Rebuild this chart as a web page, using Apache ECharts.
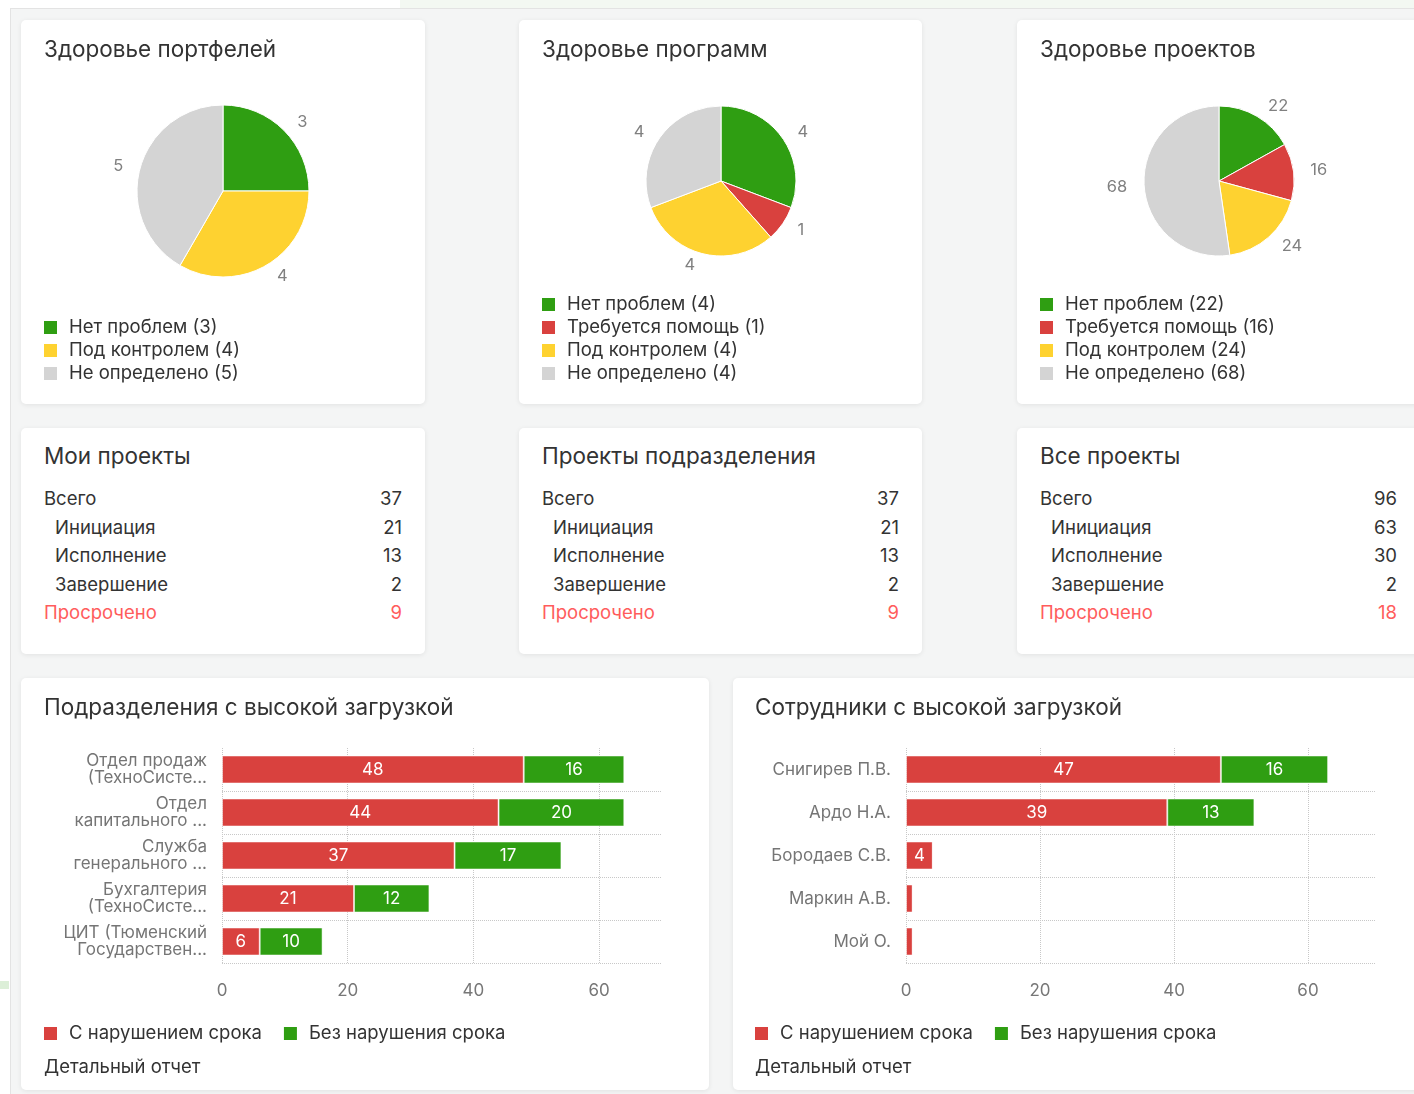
<!DOCTYPE html>
<html>
<head>
<meta charset="utf-8">
<script src="https://cdn.jsdelivr.net/npm/echarts@6/dist/echarts.min.js"></script>
<style>
  html, body { margin: 0; padding: 0; }
  body {
    width: 1414px; height: 1094px; overflow: hidden; position: relative;
    background: #fff; font-family: Inter, "Noto Sans", sans-serif; color: #333;
  }
  .page {
    position: absolute; left: 10px; top: 8px; right: 0; bottom: 0;
    background: #f4f5f5; border-left: 1px solid #e3e3e3; border-top: 1px solid #e3e3e3;
  }
  .topstrip { position: absolute; left: 400px; top: 0; right: 0; height: 8px; background: #f3f8f2; }
  .deco { position: absolute; left: 0; top: 981px; width: 9px; height: 8px; background: #dcefd8; }
  .card {
    position: absolute; background: #fff; border-radius: 5px;
    box-shadow: 0 1px 5px rgba(0,0,0,0.08);
  }
  .chart { position: absolute; left: 0; top: 0; width: 100%; height: 100%; }
  .tbl-title { position: absolute; left: 23px; top: 14px; font-size: 22.5px; line-height: 28px; }
  .tbl { position: absolute; left: 23px; right: 23px; top: 56px; }
  .row { display: flex; justify-content: space-between; font-size: 18.5px; line-height: 28.5px; }
  .row.sub span:first-child { padding-left: 11px; }
  .row.late { color: #ff5c5c; }
  .report { position: absolute; left: 23px; top: 377px; font-size: 18.5px; color: #333; }
</style>
</head>
<body>
<div class="topstrip"></div>
<div class="page"></div>
<div class="deco"></div>

<div class="card" style="left:21px;top:20px;width:404px;height:384px"><div class="chart" id="pie1"></div></div>
<div class="card" style="left:519px;top:20px;width:403px;height:384px"><div class="chart" id="pie2"></div></div>
<div class="card" style="left:1017px;top:20px;width:403px;height:384px"><div class="chart" id="pie3"></div></div>

<div class="card" style="left:21px;top:428px;width:404px;height:226px" id="tbl1"></div>
<div class="card" style="left:519px;top:428px;width:403px;height:226px" id="tbl2"></div>
<div class="card" style="left:1017px;top:428px;width:403px;height:226px" id="tbl3"></div>

<div class="card" style="left:21px;top:678px;width:688px;height:412px">
  <div class="chart" id="bar1"></div><div class="report">Детальный отчет</div>
</div>
<div class="card" style="left:733px;top:678px;width:688px;height:412px">
  <div class="chart" id="bar2"></div><div class="report" style="left:22px">Детальный отчет</div>
</div>

<script>
// ---- pie data ----
const portfolioNames = ["Нет проблем", "Под контролем", "Не определено"];
const portfolioValues = [3, 4, 5];
const programNames = ["Нет проблем", "Требуется помощь", "Под контролем", "Не определено"];
const programValues = [4, 1, 4, 4];
const projectNames = ["Нет проблем", "Требуется помощь", "Под контролем", "Не определено"];
const projectValues = [22, 16, 24, 68];

// ---- table data ----
const rowLabels = ["Всего", "Инициация", "Исполнение", "Завершение", "Просрочено"];
const myProjects = [37, 21, 13, 2, 9];
const deptProjects = [37, 21, 13, 2, 9];
const allProjects = [96, 63, 30, 2, 18];

// ---- bar data ----
const deptCategories = [
  "Отдел продаж\n(ТехноСисте...",
  "Отдел\nкапитального ...",
  "Служба\nгенерального ...",
  "Бухгалтерия\n(ТехноСисте...",
  "ЦИТ (Тюменский\nГосударствен...",
];
const deptOverdue = [48, 44, 37, 21, 6];
const deptOnTime = [16, 20, 17, 12, 10];

const staffCategories = ["Снигирев П.В.", "Ардо Н.А.", "Бородаев С.В.", "Маркин А.В.", "Мой О."];
const staffOverdue = [47, 39, 4, 1, 1];
const staffOnTime = [16, 13, 0, 0, 0];

const seriesNames = ["С нарушением срока", "Без нарушения срока"];
const xMax = 70;
const xInterval = 20;

const FONT = "Inter";
const colorByName = {
  "Нет проблем": "#2f9e12",
  "Требуется помощь": "#d9413e",
  "Под контролем": "#fed230",
  "Не определено": "#d4d4d4",
};
const RED = "#d9413e";
const GREEN = "#2f9e12";

const titleStyle = { fontFamily: FONT, fontSize: 22.5, fontWeight: "normal", color: "#333" };

function pieChart(id, title, names, values, radius, cy, legendTop) {
  const chart = echarts.init(document.getElementById(id));
  const data = names.map((n, i) => ({ name: n, value: values[i], itemStyle: { color: colorByName[n] } }));
  chart.setOption({
    animation: false,
    title: { text: title, left: 23, top: 19, padding: 0, textStyle: titleStyle },
    legend: {
      orient: "vertical", left: 23, top: legendTop, padding: 0,
      itemWidth: 13, itemHeight: 13, itemGap: 4, icon: "rect",
      itemStyle: { borderWidth: 0 },
      selectedMode: false,
      formatter: (name) => `${name} (${values[names.indexOf(name)]})`,
      textStyle: { fontFamily: FONT, fontSize: 18.5, color: "#333", padding: [0, 0, 0, 7] },
    },
    series: [{
      type: "pie",
      center: [202, cy],
      radius: radius,
      startAngle: 90,
      itemStyle: { borderColor: "#fff", borderWidth: 1 },
      label: { show: true, position: "outside", formatter: "{c}", color: "#808080", fontFamily: FONT, fontSize: 16.5 },
      labelLine: { show: false, length: 12, length2: 0 },
      emphasis: { disabled: true },
      data: data,
    }],
  });
}

pieChart("pie1", "Здоровье портфелей", portfolioNames, portfolioValues, 86, 171, 298);
pieChart("pie2", "Здоровье программ", programNames, programValues, 75, 161, 275);
pieChart("pie3", "Здоровье проектов", projectNames, projectValues, 75, 161, 275);

function table(id, title, values) {
  const el = document.getElementById(id);
  let html = `<div class="tbl-title">${title}</div><div class="tbl">`;
  rowLabels.forEach((label, i) => {
    const cls = i === 0 ? "" : i === rowLabels.length - 1 ? " late" : " sub";
    html += `<div class="row${cls}"><span>${label}</span><span>${values[i]}</span></div>`;
  });
  el.innerHTML = html + "</div>";
}

table("tbl1", "Мои проекты", myProjects);
table("tbl2", "Проекты подразделения", deptProjects);
table("tbl3", "Все проекты", allProjects);

function barChart(id, title, categories, overdue, onTime, gridLeft, gridWidth, titleLeft) {
  const chart = echarts.init(document.getElementById(id));
  const label = {
    show: true, position: "inside", color: "#fff", fontFamily: FONT, fontSize: 17,
    formatter: (p) => (p.value >= 3 ? p.value : ""),
  };
  chart.setOption({
    animation: false,
    title: { text: title, left: titleLeft, top: 19, padding: 0, textStyle: titleStyle },
    legend: {
      left: titleLeft, top: 346, padding: 0, itemWidth: 13, itemHeight: 13, itemGap: 22, icon: "rect",
      itemStyle: { borderWidth: 0 },
      selectedMode: false,
      textStyle: { fontFamily: FONT, fontSize: 18.5, color: "#333", padding: [0, 0, 0, 7] },
      data: seriesNames,
    },
    grid: { left: gridLeft, top: 70, width: gridWidth, height: 215, containLabel: false },
    xAxis: {
      type: "value", min: 0, max: xMax, interval: xInterval,
      axisLine: { show: false }, axisTick: { show: false },
      axisLabel: { color: "#777", fontFamily: FONT, fontSize: 17, margin: 19, showMaxLabel: false },
      splitLine: { show: true, showMaxLine: false, lineStyle: { type: "dotted", color: "#c8c8c8" } },
    },
    yAxis: {
      type: "category", inverse: true, data: categories,
      axisLine: { show: false }, axisTick: { show: false },
      axisLabel: { color: "#757575", fontFamily: FONT, fontSize: 17, lineHeight: 17, margin: 15 },
      splitLine: { show: true, showMinLine: false, interval: 0, lineStyle: { type: "dotted", color: "#c8c8c8" } },
    },
    series: [
      {
        name: seriesNames[0], type: "bar", stack: "total", barWidth: 28,
        itemStyle: { color: RED, borderColor: "rgba(255,255,255,0.5)", borderWidth: 1 },
        label: label, emphasis: { disabled: true }, data: overdue,
      },
      {
        name: seriesNames[1], type: "bar", stack: "total", barWidth: 28,
        itemStyle: { color: GREEN, borderColor: "rgba(255,255,255,0.5)", borderWidth: 1 },
        label: label, emphasis: { disabled: true }, data: onTime,
      },
    ],
  });
}

barChart("bar1", "Подразделения с высокой загрузкой", deptCategories, deptOverdue, deptOnTime, 201, 440, 23);
barChart("bar2", "Сотрудники с высокой загрузкой", staffCategories, staffOverdue, staffOnTime, 173, 469, 22);
</script>
</body>
</html>
